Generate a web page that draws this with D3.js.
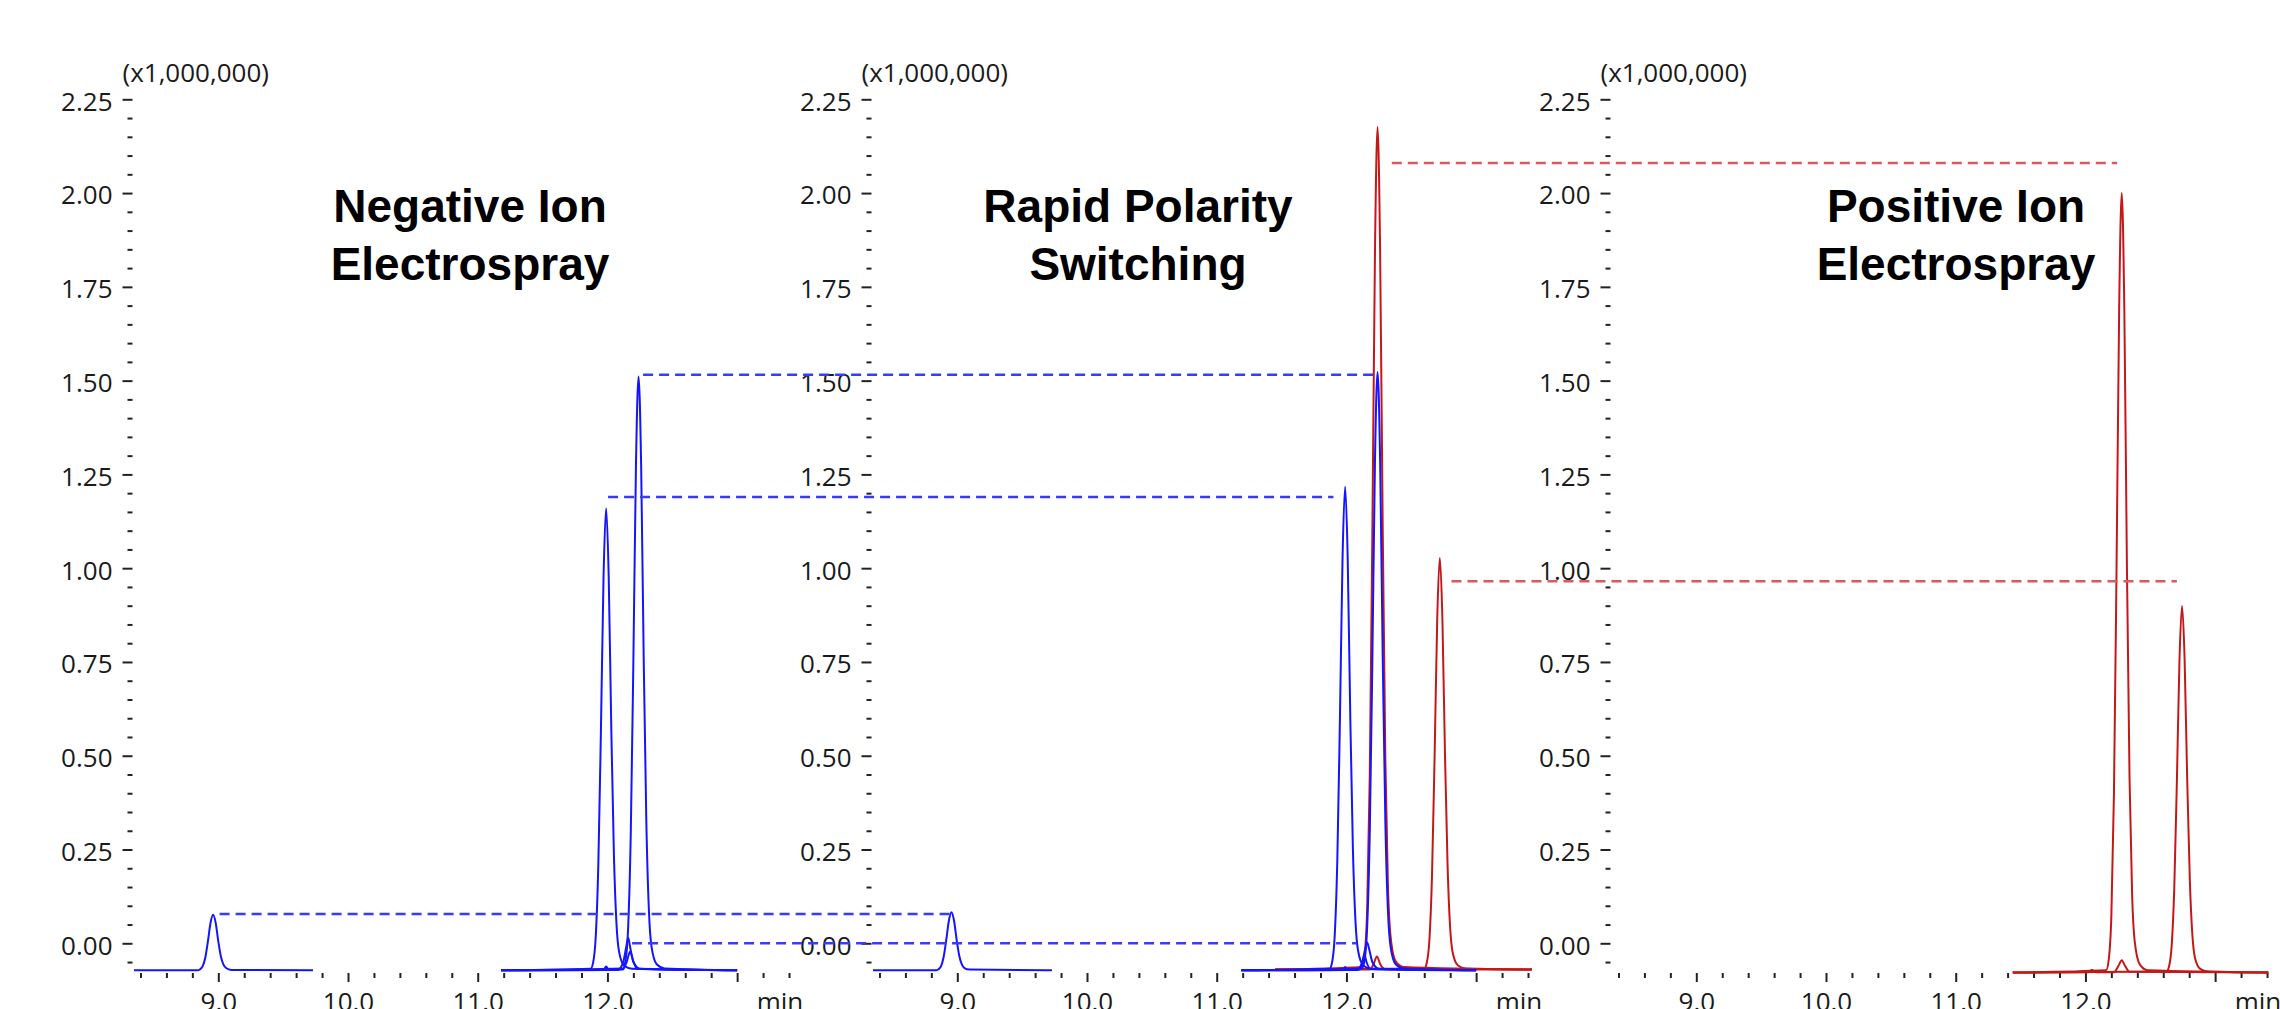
<!DOCTYPE html>
<html>
<head>
<meta charset="utf-8">
<script src="https://cdn.jsdelivr.net/npm/d3@7"></script>
<style>
  body { margin: 0; background: #ffffff; }
  .tick text { font-family: "Open Sans", sans-serif; font-size: 26px; fill: #1a1a1a; }
  .tick line { stroke: #222; stroke-width: 2; }
  .title { font-family: "Liberation Sans", Arial, sans-serif; font-weight: bold; font-size: 46px; fill: #000; }
  .unit { font-family: "Open Sans", sans-serif; font-size: 26px; fill: #1a1a1a; }
</style>
</head>
<body>
<svg id="chart" width="2280" height="1009"></svg>
<script>

// ---- data (retention time in min, intensity x1,000,000) ----
var panelTitles = [["Negative Ion", "Electrospray"], ["Rapid Polarity", "Switching"], ["Positive Ion", "Electrospray"]];
var yMajor = [0, 0.25, 0.5, 0.75, 1.0, 1.25, 1.5, 1.75, 2.0, 2.25];
var yMinor = [-0.05, 0.05, 0.1, 0.15, 0.2, 0.3, 0.35, 0.4, 0.45, 0.55, 0.6, 0.65, 0.7, 0.8, 0.85, 0.9, 0.95,
              1.05, 1.1, 1.15, 1.2, 1.3, 1.35, 1.4, 1.45, 1.55, 1.6, 1.65, 1.7, 1.8, 1.85, 1.9, 1.95, 2.05, 2.1, 2.15, 2.2];
var xMajor = [9, 10, 11, 12, 13];
var xMinor = [8.4, 8.6, 8.8, 9.2, 9.4, 9.6, 9.8, 10.2, 10.4, 10.6, 10.8, 11.2, 11.4, 11.6, 11.8,
              12.2, 12.4, 12.6, 12.8, 13.2, 13.4];

// negative ion traces (blue)
var neg9 = [[8.35,-0.072],[8.84,-0.072],[8.86,-0.069],[8.88,-0.061],[8.90,-0.038],[8.92,0.005],[8.94,0.054],[8.96,0.076],
            [8.98,0.054],[9.00,0.005],[9.02,-0.035],[9.04,-0.057],[9.06,-0.066],[9.10,-0.071],[9.73,-0.072]];
var neg1199 = [[11.18,-0.072],[11.87,-0.068],[11.89,-0.051],[11.91,0.018],[11.93,0.211],[11.95,0.569],[11.97,0.975],[11.99,1.16],
               [12.01,0.975],[12.03,0.569],[12.05,0.236],[12.07,0.051],[12.09,-0.023],[12.13,-0.060],[12.19,-0.068],[13.0,-0.072]];
var neg1224 = [[11.18,-0.072],[12.12,-0.067],[12.14,-0.045],[12.16,0.044],[12.18,0.292],[12.20,0.751],[12.22,1.274],[12.24,1.511],
               [12.26,1.274],[12.28,0.751],[12.30,0.324],[12.32,0.086],[12.34,-0.009],[12.38,-0.056],[12.44,-0.067],[13.0,-0.072]];
var neg1216 = [[11.18,-0.072],[12.08,-0.071],[12.12,-0.052],[12.145,-0.01],[12.16,0.015],[12.175,-0.01],[12.20,-0.05],[12.25,-0.068],[13.0,-0.072]];
var neg1218 = [[11.18,-0.072],[11.97,-0.071],[11.99,-0.062],[12.01,-0.071],[12.12,-0.070],[12.15,-0.048],[12.175,-0.022],
               [12.20,-0.048],[12.23,-0.068],[13.0,-0.072]];

// rapid polarity switching traces (blue)
var rap9 = [[8.35,-0.072],[8.835,-0.072],[8.855,-0.069],[8.875,-0.061],[8.895,-0.036],[8.915,0.009],[8.935,0.060],[8.955,0.083],
            [8.975,0.060],[8.995,0.009],[9.015,-0.033],[9.035,-0.056],[9.055,-0.066],[9.095,-0.070],[9.73,-0.072]];
var rap1199 = [[11.19,-0.072],[11.87,-0.068],[11.89,-0.050],[11.91,0.022],[11.93,0.224],[11.95,0.598],[11.97,1.024],[11.99,1.217],
               [12.01,1.024],[12.03,0.598],[12.05,0.250],[12.07,0.057],[12.09,-0.020],[12.13,-0.059],[12.19,-0.068],[13.0,-0.072]];
var rap1224 = [[11.19,-0.072],[12.12,-0.067],[12.14,-0.045],[12.16,0.044],[12.18,0.295],[12.20,0.757],[12.22,1.284],[12.24,1.523],
               [12.26,1.284],[12.28,0.757],[12.30,0.327],[12.32,0.088],[12.34,-0.008],[12.38,-0.056],[12.44,-0.067],[13.0,-0.072]];
var rap1216 = [[11.19,-0.072],[12.08,-0.071],[12.12,-0.052],[12.145,-0.015],[12.16,0.002],[12.175,-0.015],[12.20,-0.05],[12.25,-0.068],[13.0,-0.072]];
var rap1214 = [[11.19,-0.072],[11.97,-0.071],[11.99,-0.064],[12.01,-0.071],[12.10,-0.070],[12.125,-0.05],[12.14,-0.032],
               [12.155,-0.05],[12.19,-0.069],[13.0,-0.072]];

// rapid polarity switching traces (red)
var rapR1224 = [[11.45,-0.070],[12.12,-0.063],[12.14,-0.032],[12.16,0.094],[12.18,0.447],[12.20,1.098],[12.22,1.839],[12.24,2.176],
                [12.26,1.839],[12.28,1.098],[12.30,0.492],[12.32,0.155],[12.34,0.020],[12.38,-0.048],[12.44,-0.063],[13.43,-0.070]];
var rapR1272 = [[11.45,-0.070],[12.60,-0.067],[12.62,-0.051],[12.64,0.010],[12.66,0.183],[12.68,0.501],[12.70,0.863],[12.72,1.028],
                [12.74,0.863],[12.76,0.501],[12.78,0.205],[12.80,0.040],[12.82,-0.026],[12.86,-0.059],[12.92,-0.067],[13.43,-0.070]];
var rapRsmall = [[11.45,-0.070],[11.97,-0.070],[11.99,-0.064],[12.01,-0.070],[12.18,-0.070],[12.21,-0.055],[12.235,-0.035],
                 [12.26,-0.055],[12.30,-0.069],[13.43,-0.070]];

// positive ion traces (red)
var pos1228 = [[11.44,-0.078],[12.16,-0.072],[12.18,-0.043],[12.20,0.074],[12.22,0.400],[12.24,1.003],[12.26,1.688],[12.28,2.0],
               [12.30,1.688],[12.32,1.003],[12.34,0.442],[12.36,0.130],[12.38,0.005],[12.42,-0.057],[12.48,-0.072],[13.41,-0.078]];
var pos1275 = [[11.44,-0.078],[12.625,-0.075],[12.645,-0.061],[12.665,-0.007],[12.685,0.147],[12.705,0.431],[12.725,0.753],[12.745,0.90],
               [12.765,0.753],[12.785,0.431],[12.805,0.167],[12.825,0.020],[12.845,-0.039],[12.885,-0.068],[12.945,-0.075],[13.41,-0.078]];
var posSmall = [[11.44,-0.078],[12.02,-0.077],[12.05,-0.071],[12.08,-0.077],[12.22,-0.077],[12.255,-0.060],[12.28,-0.045],
                [12.305,-0.060],[12.34,-0.076],[13.41,-0.078]];

// dashed connectors: [from panel, from min, to panel, to min, level]
var blueLinks = [[0, 12.275, 1, 12.22, 1.516], [0, 12.005, 1, 11.90, 1.19], [0, 9.01, 1, 8.94, 0.078], [0, 12.19, 1, 12.08, 0.0]];
var redLinks = [[1, 12.35, 2, 12.245, 2.08], [1, 12.81, 2, 12.705, 0.965]];

// ---- drawing ----
var svg = d3.select("#chart");
var panelStep = 739;
var blue = "#1414ff", red = "#c41818";

var y = d3.scaleLinear().domain([-0.08, 2.25]).range([973.3, 99.3]);
var xs = [0, 1, 2].map(function(i) {
  return d3.scaleLinear().domain([8.3, 13.45]).range([127.5 + i * panelStep, 795.5 + i * panelStep]);
});

var panelTraces = [
  [{d: neg9, c: blue}, {d: neg1216, c: blue}, {d: neg1218, c: blue}, {d: neg1199, c: blue}, {d: neg1224, c: blue}],
  [{d: rapRsmall, c: red}, {d: rapR1272, c: red}, {d: rapR1224, c: red},
   {d: rap9, c: blue}, {d: rap1216, c: blue}, {d: rap1214, c: blue}, {d: rap1199, c: blue}, {d: rap1224, c: blue}],
  [{d: posSmall, c: red}, {d: pos1275, c: red}, {d: pos1228, c: red}]
];

xs.forEach(function(x, i) {
  var g = svg.append("g");
  var ax = x(8.3) + 5;

  var yMin = g.append("g").attr("transform", "translate(" + ax + ",0)")
    .call(d3.axisLeft(y).tickValues(yMinor).tickSize(5).tickFormat(""));
  yMin.select(".domain").remove();

  var yMaj = g.append("g").attr("transform", "translate(" + ax + ",0)")
    .call(d3.axisLeft(y).tickValues(yMajor).tickSize(10).tickPadding(10).tickFormat(d3.format(".2f")));
  yMaj.select(".domain").remove();
  yMaj.selectAll("text").attr("dy", "0.42em");

  var xMin = g.append("g").attr("transform", "translate(0,973)")
    .call(d3.axisBottom(x).tickValues(xMinor).tickSize(5).tickFormat(""));
  xMin.select(".domain").remove();

  var xMaj = g.append("g").attr("transform", "translate(0,973)")
    .call(d3.axisBottom(x).tickValues(xMajor).tickSize(9).tickPadding(11)
      .tickFormat(function(d) { return d === 13 ? "" : d.toFixed(1); }));
  xMaj.select(".domain").remove();

  g.append("text").attr("class", "unit").attr("x", x(13.33)).attr("y", 1011)
    .attr("text-anchor", "middle").text("min");

  g.append("text").attr("class", "unit").attr("x", ax - 10).attr("y", 82).text("(x1,000,000)");

  var tcx = [470, 1138, 1956][i];
  panelTitles[i].forEach(function(t, k) {
    g.append("text").attr("class", "title").attr("x", tcx).attr("y", 222 + k * 58)
      .attr("text-anchor", "middle").text(t);
  });

  var line = d3.line().x(function(d) { return x(d[0]); }).y(function(d) { return y(d[1]); })
    .curve(d3.curveMonotoneX);
  panelTraces[i].forEach(function(tr) {
    g.append("path").attr("d", line(tr.d)).attr("fill", "none")
      .attr("stroke", tr.c).attr("stroke-width", 2).attr("stroke-linejoin", "round");
  });
});

function drawLinks(links, color) {
  links.forEach(function(l) {
    svg.append("line")
      .attr("x1", xs[l[0]](l[1])).attr("x2", xs[l[2]](l[3]))
      .attr("y1", y(l[4])).attr("y2", y(l[4]))
      .attr("stroke", color).attr("stroke-width", 2.5)
      .attr("stroke-dasharray", "10,6");
  });
}
drawLinks(blueLinks, "#3a3aff");
drawLinks(redLinks, "#d85a5a");

</script>
</body>
</html>
